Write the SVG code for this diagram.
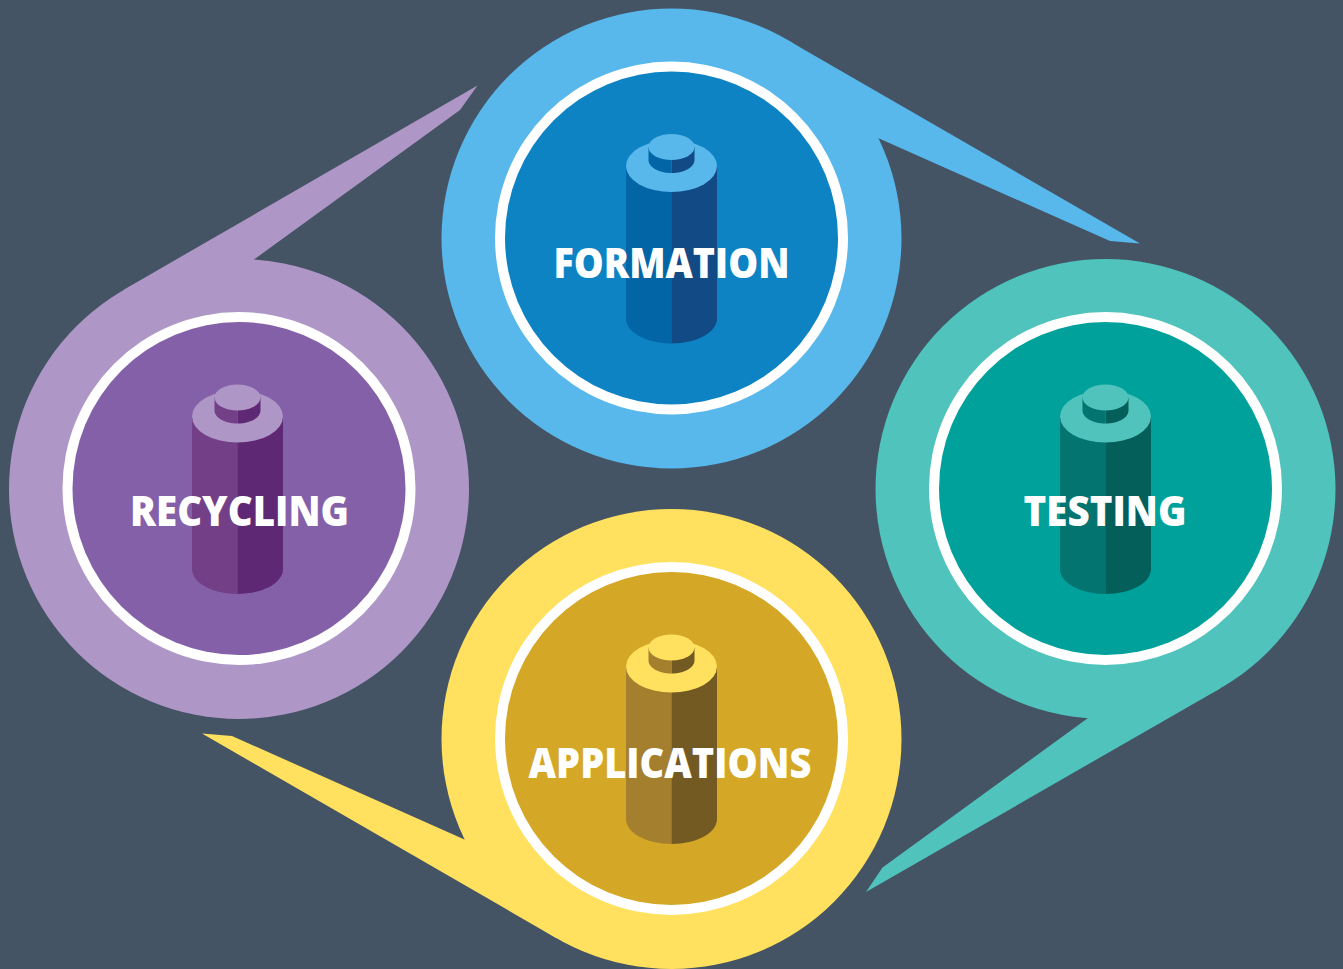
<svg xmlns="http://www.w3.org/2000/svg" width="1343" height="969" viewBox="0 0 1343 969">
<style>
.o{fill:var(--o)}.m{fill:var(--m)}.l{fill:var(--l)}.r{fill:var(--r)}
.ring{fill:#fff}
.label{font-family:"Open Sans","Noto Sans","Liberation Sans",sans-serif;font-weight:800;font-size:42px;fill:#fff;text-anchor:middle}
.blue{--o:#58b7eb;--m:#0d83c4;--l:#0266a6;--r:#114a85}
.teal{--o:#4fc3bc;--m:#00a19b;--l:#03746f;--r:#045e59}
.yellow{--o:#ffe15f;--m:#d4a726;--l:#a4802e;--r:#735a22}
.purple{--o:#ae97c6;--m:#8460a8;--l:#733f87;--r:#5e2875}
</style>
<defs>
<g id="disc">
<circle class="o" r="230"/>
<circle class="ring" cy="-0.500" r="176.500"/>
<circle class="m" cy="-0.500" r="166.500"/>
</g>
<g id="battery">
<path class="l" d="M-45.500-72.500V80C-45.500 93.800-25.100 105 0 105V-72.500Z"/>
<path class="r" d="M45.500-72.500V80C45.500 93.800 25.100 105 0 105V-72.500Z"/>
<ellipse class="o" cy="-72.500" rx="45.500" ry="26"/>
<path class="l" d="M-23-91.500V-78.500C-23-71.300-12.700-65.500 0-65.500V-91.500Z"/>
<path class="r" d="M23-91.500V-78.500C23-71.300 12.700-65.500 0-65.500V-91.500Z"/>
<ellipse class="o" cy="-91.500" rx="23" ry="13"/>
</g>
</defs>
<rect width="1343" height="969" fill="#445464"/>
<g id="connectors">
<polygon class="tail" fill="#58b7eb" points="786.500,39.400 1140,243.500 1110,241 878,138 671.500,238.500"/>
<polygon class="tail" fill="#4fc3bc" points="1220.200,688.400 866,892 882.500,867.500 1088,718 1105.500,489"/>
<polygon class="tail" fill="#ffe15f" points="556.500,938.200 202,733.500 232,736 464.500,839.500 671.500,739"/>
<polygon class="tail" fill="#ae97c6" points="123.800,289.700 477.500,85.500 460,110 254,259.500 239,489"/>
</g>
<g id="formation" class="blue" transform="translate(671.500 238.500)">
<use href="#disc"/><use href="#battery"/>
<text class="label" x="0" y="39.500" textLength="236" lengthAdjust="spacingAndGlyphs">FORMATION</text>
</g>
<g id="testing" class="teal" transform="translate(1105.500 489)">
<use href="#disc"/><use href="#battery"/>
<text class="label" x="-0.500" y="37" textLength="163" lengthAdjust="spacingAndGlyphs">TESTING</text>
</g>
<g id="applications" class="yellow" transform="translate(671.500 739)">
<use href="#disc"/><use href="#battery"/>
<text class="label" x="-1.500" y="39" textLength="283" lengthAdjust="spacingAndGlyphs">APPLICATIONS</text>
</g>
<g id="recycling" class="purple" transform="translate(239 489)">
<use href="#disc"/><use href="#battery" x="-1.500"/>
<text class="label" x="0.500" y="37" textLength="219" lengthAdjust="spacingAndGlyphs">RECYCLING</text>
</g>
</svg>
